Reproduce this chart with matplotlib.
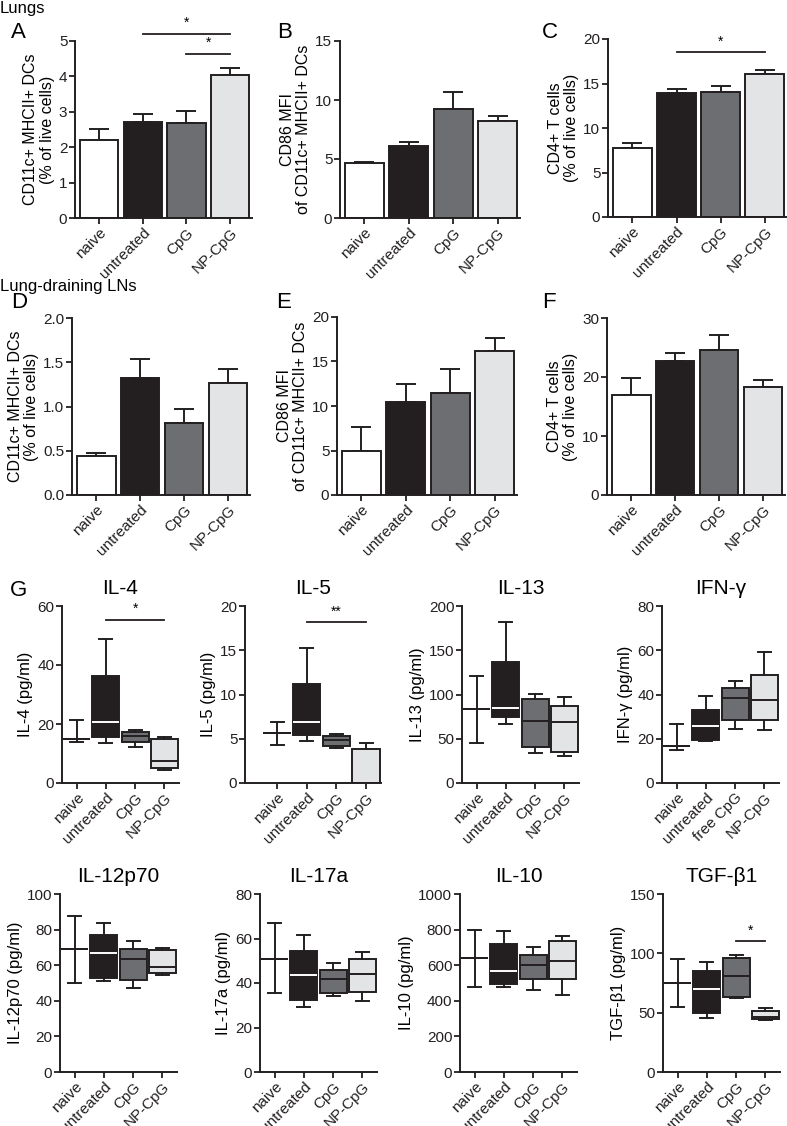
import matplotlib
matplotlib.use("Agg")
import matplotlib.pyplot as plt
from matplotlib.ticker import FormatStrFormatter

plt.rcParams['font.family'] = ['Liberation Sans', 'DejaVu Sans']
plt.rcParams['font.size'] = 10

W, H = 787, 1126

groups = ["naive", "untreated", "CpG", "NP-CpG"]
groups_ifn = ["naive", "untreated", "free CpG", "NP-CpG"]
colors = ["#ffffff", "#231f20", "#6d6e71", "#e3e4e5"]

# ---- bar chart data (mean, upper SEM) ----
A_mean = [2.19, 2.72, 2.67, 4.03]
A_err = [0.33, 0.21, 0.36, 0.22]
B_mean = [4.70, 6.14, 9.20, 8.22]
B_err = [0.06, 0.33, 1.50, 0.42]
C_mean = [7.70, 13.98, 14.10, 16.10]
C_err = [0.57, 0.42, 0.64, 0.40]
D_mean = [0.44, 1.32, 0.816, 1.26]
D_err = [0.03, 0.22, 0.158, 0.16]
E_mean = [4.95, 10.40, 11.50, 16.20]
E_err = [2.65, 2.10, 2.65, 1.40]
F_mean = [17.0, 22.75, 24.6, 18.3]
F_err = [2.8, 1.3, 2.6, 1.2]

# ---- box plot data: (whislo, q1, med, q3, whishi) ----
IL4 = [(14.0, 14.9, 14.9, 14.9, 21.2), (13.7, 15.7, 20.7, 36.2, 48.8),
       (12.2, 14.0, 16.0, 17.4, 17.9), (4.3, 5.0, 7.3, 14.9, 15.5)]
IL5 = [(4.3, 5.6, 5.6, 5.6, 6.9), (4.8, 5.4, 6.9, 11.2, 15.2),
       (3.9, 4.2, 4.9, 5.3, 5.5), (0.0, 0.0, 0.0, 3.8, 4.5)]
IL13 = [(45.2, 83.2, 83.2, 83.2, 120.5), (66.3, 74.6, 84.7, 136.7, 182.3),
        (33.5, 40.7, 70.0, 95.3, 101.0), (30.5, 34.7, 69.0, 87.0, 96.8)]
IFNG = [(14.8, 16.7, 16.7, 16.7, 26.8), (18.8, 19.3, 25.6, 32.9, 39.2),
        (24.5, 28.4, 38.6, 43.1, 45.9), (23.8, 28.3, 37.6, 48.9, 59.0)]
IL12 = [(49.8, 69.0, 69.0, 69.0, 87.8), (51.0, 53.0, 67.0, 77.0, 83.5),
        (47.0, 51.5, 63.5, 69.0, 73.5), (54.5, 55.5, 59.0, 68.5, 69.5)]
IL17 = [(35.5, 51.0, 51.0, 51.0, 67.0), (29.0, 32.5, 43.5, 54.5, 61.5),
        (34.0, 35.5, 42.0, 46.0, 49.0), (32.0, 36.0, 44.0, 51.0, 54.0)]
IL10 = [(480, 640, 640, 640, 800), (480, 495, 565, 720, 790),
        (460, 520, 600, 660, 700), (430, 520, 625, 735, 765)]
TGFB = [(55.0, 75.0, 75.0, 75.0, 95.0), (45.5, 50.0, 70.0, 85.0, 93.0),
        (62.0, 63.0, 80.5, 96.0, 99.0), (43.5, 44.5, 46.5, 51.5, 54.0)]

fig = plt.figure(figsize=(W / 100, H / 100), dpi=100)


def px_axes(x0, y0, x1, y1):
    return fig.add_axes([x0 / W, 1 - y1 / H, (x1 - x0) / W, (y1 - y0) / H])


def style(ax):
    for s in ["top", "right"]:
        ax.spines[s].set_visible(False)
    for s in ["left", "bottom"]:
        ax.spines[s].set_linewidth(1.4)
        ax.spines[s].set_color("#231f20")
    ax.tick_params(direction="out", length=4, width=1.3, colors="#231f20",
                   labelsize=11, pad=1.5)
    ax.tick_params(axis="y", labelsize=11)


def add_sig(ax, sig):
    for (a, b, y, ys, txt) in sig:
        ax.plot([a, b], [y, y], color="#231f20", lw=1.3, clip_on=False)
        ax.text((a + b) / 2, ys, txt, ha="center", va="center", fontsize=10,
                clip_on=False)


def bar_panel(rect, means, errs, ylim, yticks, ylabel, fmt=None, sig=None):
    ax = px_axes(*rect)
    x = list(range(4))
    ax.bar(x, means, width=0.88, color=colors, edgecolor="#231f20",
           linewidth=1.4, zorder=2)
    ax.errorbar(x, means, yerr=[[0] * 4, errs], fmt="none", ecolor="#231f20",
                elinewidth=1.4, capsize=7.5, capthick=1.4, zorder=1)
    ax.set_xlim(-0.55, 3.5)
    ax.set_ylim(*ylim)
    ax.set_yticks(yticks)
    if fmt:
        ax.yaxis.set_major_formatter(FormatStrFormatter(fmt))
    ax.set_xticks(x)
    ax.set_xticklabels(groups, rotation=45, ha="right", rotation_mode="anchor")
    ax.set_ylabel(ylabel, fontsize=11.5, labelpad=3, linespacing=1.1)
    style(ax)
    if sig:
        add_sig(ax, sig)
    return ax


def box_panel(rect, stats, ylim, yticks, ylabel, title, labels=groups,
              xlim=(-0.5, 3.5), sig=None):
    ax = px_axes(*rect)
    st = []
    for (lo, q1, med, q3, hi) in stats:
        st.append(dict(whislo=lo, q1=q1, med=med, q3=q3, whishi=hi, fliers=[]))
    bp = ax.bxp(st, positions=range(4), widths=0.92, patch_artist=True,
                showfliers=False,
                boxprops=dict(linewidth=1.4, edgecolor="#231f20"),
                whiskerprops=dict(linewidth=1.4, color="#231f20"),
                capprops=dict(linewidth=1.4, color="#231f20"),
                medianprops=dict(linewidth=1.4, color="#231f20"))
    for i, patch in enumerate(bp["boxes"]):
        patch.set_facecolor(colors[i])
    bp["medians"][1].set_color("white")
    bp["boxes"][0].set_facecolor("none")
    for cap in bp["caps"]:
        xd = cap.get_xdata()
        c = (xd[0] + xd[1]) / 2
        cap.set_xdata([c - 0.22, c + 0.22])
    ax.set_xlim(*xlim)
    ax.set_ylim(*ylim)
    ax.set_yticks(yticks)
    ax.set_xticks(range(4))
    ax.set_xticklabels(labels, rotation=45, ha="right", rotation_mode="anchor")
    ax.set_ylabel(ylabel, fontsize=12, labelpad=3)
    ax.set_title(title, fontsize=15, pad=9)
    style(ax)
    if sig:
        add_sig(ax, sig)
    return ax


# ---- row 1: Lungs ----
bar_panel((75, 41, 252, 218), A_mean, A_err, (0, 5), range(0, 6),
          "CD11c+ MHCII+ DCs\n(% of live cells)",
          sig=[(1, 3, 5.2, 5.52, "*"), (2, 3, 4.64, 4.96, "*")])
bar_panel((340, 41, 520, 218), B_mean, B_err, (0, 15), [0, 5, 10, 15],
          "CD86 MFI\nof CD11c+ MHCII+ DCs")
bar_panel((608, 39, 787, 217), C_mean, C_err, (0, 20), [0, 5, 10, 15, 20],
          "CD4+ T cells\n(% of live cells)",
          sig=[(1, 3, 18.5, 19.7, "*")])

# ---- row 2: Lung-draining LNs ----
bar_panel((72, 318, 250, 495), D_mean, D_err, (0, 2), [0, 0.5, 1.0, 1.5, 2.0],
          "CD11c+ MHCII+ DCs\n(% of live cells)", fmt="%.1f")
bar_panel((337, 317, 517, 495), E_mean, E_err, (0, 20), [0, 5, 10, 15, 20],
          "CD86 MFI\nof CD11c+ MHCII+ DCs")
bar_panel((607, 318, 785, 495), F_mean, F_err, (0, 30), [0, 10, 20, 30],
          "CD4+ T cells\n(% of live cells)")

# ---- row 3: cytokines ----
box_panel((62, 606, 179, 783), IL4, (0, 60), [0, 20, 40, 60], "IL-4 (pg/ml)",
          "IL-4", sig=[(1, 3, 55.3, 59.0, "*")])
box_panel((245, 606, 381, 783), IL5, (0, 20), [0, 5, 10, 15, 20], "IL-5 (pg/ml)",
          "IL-5", xlim=(-1.08, 3.5), sig=[(1, 3, 18.2, 19.4, "**")])
box_panel((462, 606, 579, 783), IL13, (0, 200), [0, 50, 100, 150, 200],
          "IL-13 (pg/ml)", "IL-13")
box_panel((662, 606, 779, 783), IFNG, (0, 80), [0, 20, 40, 60, 80],
          "IFN-γ (pg/ml)", "IFN-γ", labels=groups_ifn)

# ---- row 4 ----
box_panel((60, 894, 177, 1072), IL12, (0, 100), [0, 20, 40, 60, 80, 100],
          "IL-12p70 (pg/ml)", "IL-12p70")
box_panel((260, 894, 377, 1072), IL17, (0, 80), [0, 20, 40, 60, 80],
          "IL-17a (pg/ml)", "IL-17a")
box_panel((460, 894, 577, 1072), IL10, (0, 1000), [0, 200, 400, 600, 800, 1000],
          "IL-10 (pg/ml)", "IL-10")
box_panel((663, 894, 780, 1072), TGFB, (0, 150), [0, 50, 100, 150],
          "TGF-β1 (pg/ml)", "TGF-β1", sig=[(2, 3, 110, 119, "*")])

# ---- section and panel labels ----
def ftext(x, y, s, size, **kw):
    fig.text(x / W, 1 - y / H, s, fontsize=size, va="center", **kw)

ftext(0, 9, "Lungs", 12)
ftext(0, 287, "Lung-draining LNs", 12)
for (x, y, s) in [(11, 33, "A"), (277, 33, "B"), (542, 33, "C"),
                  (11, 303, "D"), (276, 303, "E"), (542, 303, "F"),
                  (10, 590, "G")]:
    ftext(x, y, s, 16)

fig.savefig("out.png", dpi=100)
